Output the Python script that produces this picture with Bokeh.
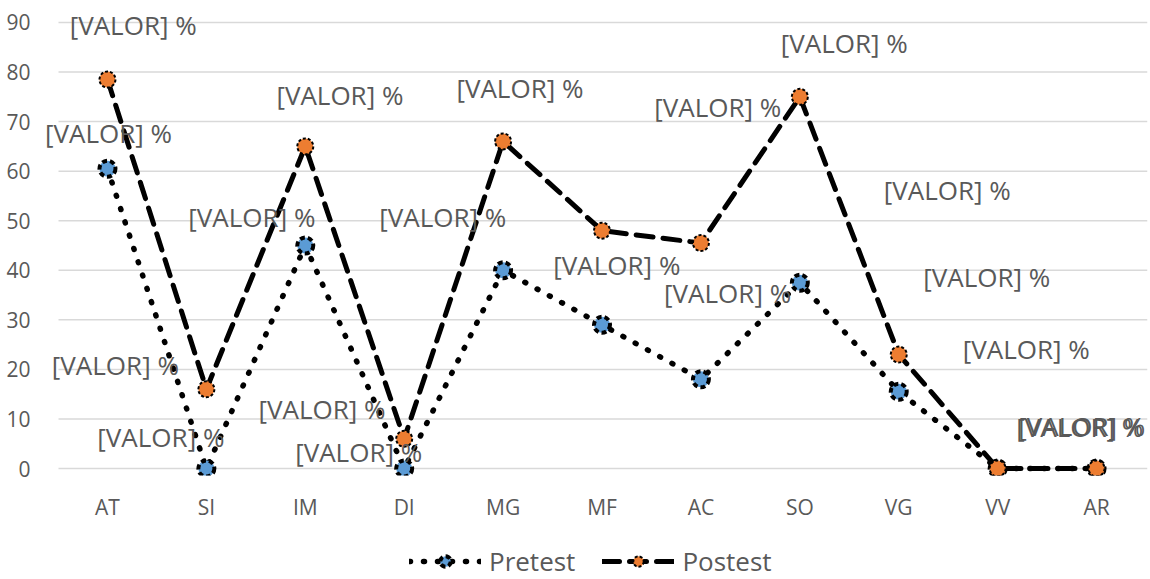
from bokeh.plotting import figure
from bokeh.layouts import column
from bokeh.models import (Range1d, FixedTicker, Legend, LegendItem, ColumnDataSource)
from bokeh.core.properties import value
from bokeh.embed import file_html
from bokeh.resources import INLINE

categories = ["AT", "SI", "IM", "DI", "MG", "MF", "AC", "SO", "VG", "VV", "AR"]
pretest = [60.5, 0, 45, 0, 40, 29, 18, 37.5, 15.5, 0, 0]
postest = [78.5, 16, 65, 6, 66, 48, 45.5, 75, 23, 0, 0]
y_ticks = [0, 10, 20, 30, 40, 50, 60, 70, 80, 90]
series_names = ["Pretest", "Postest"]
label_text = "[VALOR] %"

# data label anchor points (category index offset, value) as placed in the source
label_x = [0.26, 0.01, 2.35, 4.17, 6.17, 7.45, 8.49, 1.46, 3.39, 5.15, 6.27,
           8.89, 0.08, 9.29, 2.17, 0.54, 2.54, 9.83, 9.85]
label_y = [89.4, 67.8, 75.3, 76.7, 73.0, 85.8, 56.1, 50.8, 50.8, 41.0, 35.5,
           38.7, 20.8, 24.2, 12.1, 6.3, 3.4, 8.3, 8.5]

xs = list(range(len(categories)))

PRE_LINE = dict(line_color="black", line_width=5.5, line_dash="1 13", line_cap="round")
PRE_MARK = dict(size=16, fill_color="#5B9BD5", line_color="black", line_width=4, line_dash="5 3")
POST_LINE = dict(line_color="black", line_width=5, line_dash="17 10", line_cap="round")
POST_MARK = dict(size=16, fill_color="#ED7D31", line_color="black", line_width=2, line_dash="3 2")

X_START, X_END = -0.677, 10.515   # plot area edges in category units
GRID_START, GRID_END = -0.495, 10.515

p = figure(width=1150, height=540, output_backend="svg", toolbar_location=None,
           x_range=Range1d(X_START, X_END), y_range=Range1d(-1.41, 93.43),
           min_border_left=40, min_border_right=3, min_border_top=5,
           min_border_bottom=65)
p.outline_line_color = None
p.background_fill_color = "white"

p.xaxis.ticker = FixedTicker(ticks=xs)
p.xaxis.major_label_overrides = {i: c for i, c in enumerate(categories)}
p.xaxis.axis_line_color = None
p.xaxis.major_tick_line_color = None
p.xaxis.minor_tick_line_color = None
p.xaxis.major_label_text_font = "Open Sans"
p.xaxis.major_label_text_font_size = "21px"
p.xaxis.major_label_text_color = "#595959"
p.xaxis.major_label_standoff = 11

p.yaxis.ticker = FixedTicker(ticks=y_ticks)
p.yaxis.axis_line_color = None
p.yaxis.major_tick_line_color = None
p.yaxis.minor_tick_line_color = None
p.yaxis.major_label_text_font = "Open Sans"
p.yaxis.major_label_text_font_size = "21px"
p.yaxis.major_label_text_color = "#595959"
p.yaxis.major_label_standoff = 4

p.xgrid.grid_line_color = None
p.ygrid.grid_line_color = None

# horizontal gridlines at the y ticks, spanning the category area
p.segment(x0=[GRID_START] * len(y_ticks), y0=y_ticks,
          x1=[GRID_END] * len(y_ticks), y1=y_ticks,
          line_color="#D9D9D9", line_width=1.5)

src = ColumnDataSource(dict(x=xs, pre=pretest, post=postest))

p.line("x", "pre", source=src, **PRE_LINE)
p.scatter("x", "pre", source=src, **PRE_MARK)
p.line("x", "post", source=src, **POST_LINE)
p.scatter("x", "post", source=src, **POST_MARK)

lsrc = ColumnDataSource(dict(x=label_x, y=label_y, t=[label_text] * len(label_x)))
p.text("x", "y", text="t", source=lsrc, text_font=value("Open Sans"),
       text_font_size="26px", text_color="#595959", text_align="center",
       text_baseline="middle")

# legend strip below the chart
lg = figure(width=1150, height=39, output_backend="svg", toolbar_location=None,
            x_range=Range1d(0, 1), y_range=Range1d(0, 1),
            x_axis_location=None, y_axis_location=None,
            min_border_left=0, min_border_right=0, min_border_top=0,
            min_border_bottom=0)
lg.grid.visible = False
lg.outline_line_color = None
hidden = ColumnDataSource(dict(x=[-10], y=[-10]))
r1 = lg.line("x", "y", source=hidden, **PRE_LINE)
r2 = lg.scatter("x", "y", source=hidden, **PRE_MARK)
r3 = lg.line("x", "y", source=hidden, **POST_LINE)
r4 = lg.scatter("x", "y", source=hidden, **POST_MARK)
legend = Legend(items=[LegendItem(label=series_names[0], renderers=[r1, r2]),
                       LegendItem(label=series_names[1], renderers=[r3, r4])],
                orientation="horizontal", location=(369, 0),
                label_text_font="Open Sans", label_text_font_size="26px",
                label_text_color="#595959", glyph_width=72, glyph_height=26,
                label_height=26, label_standoff=8, spacing=27,
                border_line_color=None, background_fill_alpha=0,
                margin=0, padding=0)
lg.add_layout(legend, "center")

layout = column(p, lg, spacing=0)

with open("out.html", "w") as f:
    f.write(file_html(layout, INLINE))
